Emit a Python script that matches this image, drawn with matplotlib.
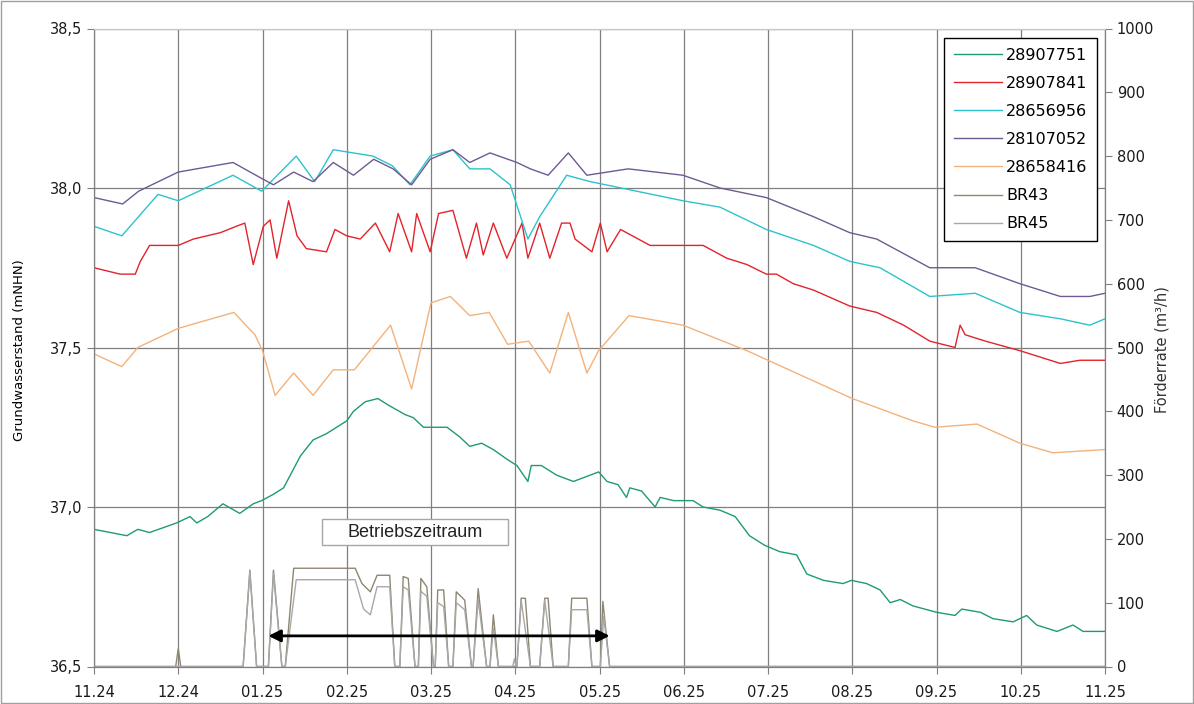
import matplotlib
matplotlib.use('Agg')
import matplotlib.pyplot as plt
from matplotlib.patches import Rectangle
from matplotlib.ticker import FixedLocator, FuncFormatter

# x-Werte: Monate seit 01.11.2024 (0 = 11.24, 12 = 11.25)
monat_labels = ['11.24', '12.24', '01.25', '02.25', '03.25', '04.25', '05.25',
                '06.25', '07.25', '08.25', '09.25', '10.25', '11.25']

# Grundwasserstände (mNHN)
x_751 = [0, 0.39, 0.52, 0.66, 0.98, 1.14, 1.22, 1.35, 1.53, 1.73,
         1.89, 1.99, 2.13, 2.25, 2.37, 2.45, 2.60, 2.76, 3.00, 3.08,
         3.22, 3.37, 3.49, 3.69, 3.79, 3.91, 4.19, 4.34, 4.46, 4.60,
         4.74, 4.90, 5.02, 5.15, 5.19, 5.31, 5.49, 5.69, 5.99, 6.09,
         6.22, 6.32, 6.36, 6.50, 6.66, 6.72, 6.88, 7.11, 7.23, 7.43,
         7.61, 7.78, 7.96, 8.14, 8.34, 8.46, 8.66, 8.89, 8.99, 9.17,
         9.33, 9.45, 9.57, 9.72, 10.00, 10.22, 10.30, 10.52, 10.67, 10.91,
         11.07, 11.19, 11.43, 11.62, 11.74, 12.0]
gw_751 = [36.93, 36.91, 36.93, 36.92, 36.95, 36.97, 36.95, 36.97, 37.01, 36.98,
          37.01, 37.02, 37.04, 37.06, 37.12, 37.16, 37.21, 37.23, 37.27, 37.30,
          37.33, 37.34, 37.32, 37.29, 37.28, 37.25, 37.25, 37.22, 37.19, 37.20,
          37.18, 37.15, 37.13, 37.08, 37.13, 37.13, 37.10, 37.08, 37.11, 37.08,
          37.07, 37.03, 37.06, 37.05, 37.00, 37.03, 37.02, 37.02, 37.00, 36.99,
          36.97, 36.91, 36.88, 36.86, 36.85, 36.79, 36.77, 36.76, 36.77, 36.76,
          36.74, 36.70, 36.71, 36.69, 36.67, 36.66, 36.68, 36.67, 36.65, 36.64,
          36.66, 36.63, 36.61, 36.63, 36.61, 36.61]

x_841 = [0, 0.31, 0.49, 0.55, 0.66, 1.00, 1.18, 1.50, 1.69, 1.79,
         1.89, 2.01, 2.09, 2.17, 2.31, 2.41, 2.52, 2.76, 2.86, 3.00,
         3.16, 3.34, 3.51, 3.61, 3.77, 3.83, 3.99, 4.09, 4.26, 4.42,
         4.54, 4.62, 4.74, 4.90, 5.08, 5.15, 5.29, 5.41, 5.55, 5.65,
         5.71, 5.91, 6.01, 6.09, 6.25, 6.32, 6.60, 6.99, 7.23, 7.51,
         7.75, 7.98, 8.10, 8.30, 8.54, 8.97, 9.29, 9.61, 9.92, 10.22,
         10.28, 10.34, 10.58, 10.99, 11.47, 11.70, 12.0]
gw_841 = [37.75, 37.73, 37.73, 37.77, 37.82, 37.82, 37.84, 37.86, 37.88, 37.89,
          37.76, 37.88, 37.90, 37.78, 37.96, 37.85, 37.81, 37.80, 37.87, 37.85,
          37.84, 37.89, 37.80, 37.92, 37.80, 37.92, 37.80, 37.92, 37.93, 37.78,
          37.89, 37.79, 37.89, 37.78, 37.89, 37.78, 37.89, 37.78, 37.89, 37.89,
          37.84, 37.80, 37.89, 37.80, 37.87, 37.86, 37.82, 37.82, 37.82, 37.78,
          37.76, 37.73, 37.73, 37.70, 37.68, 37.63, 37.61, 37.57, 37.52, 37.50,
          37.57, 37.54, 37.52, 37.49, 37.45, 37.46, 37.46]

x_956 = [0, 0.33, 0.76, 1.00, 1.65, 1.99, 2.40, 2.62, 2.84, 3.31,
         3.54, 3.75, 3.99, 4.26, 4.46, 4.70, 4.94, 5.15, 5.29, 5.61,
         5.89, 6.99, 7.43, 7.98, 8.54, 8.97, 9.33, 9.92, 10.46, 10.99,
         11.47, 11.82, 12.0]
gw_956 = [37.88, 37.85, 37.98, 37.96, 38.04, 37.99, 38.10, 38.02, 38.12, 38.10,
          38.07, 38.01, 38.10, 38.12, 38.06, 38.06, 38.01, 37.84, 37.91, 38.04,
          38.02, 37.96, 37.94, 37.87, 37.82, 37.77, 37.75, 37.66, 37.67, 37.61,
          37.59, 37.57, 37.59]

x_052 = [0, 0.34, 0.53, 1.00, 1.65, 1.99, 2.13, 2.37, 2.60, 2.84,
         3.08, 3.32, 3.55, 3.77, 3.99, 4.26, 4.46, 4.70, 5.02, 5.18,
         5.39, 5.63, 5.85, 6.34, 6.99, 7.43, 7.98, 8.54, 8.97, 9.29,
         9.92, 10.46, 10.99, 11.47, 11.82, 12.0]
gw_052 = [37.97, 37.95, 37.99, 38.05, 38.08, 38.03, 38.01, 38.05, 38.02, 38.08,
          38.04, 38.09, 38.06, 38.01, 38.09, 38.12, 38.08, 38.11, 38.08, 38.06,
          38.04, 38.11, 38.04, 38.06, 38.04, 38.00, 37.97, 37.91, 37.86, 37.84,
          37.75, 37.75, 37.70, 37.66, 37.66, 37.67]

x_416 = [0, 0.33, 0.52, 1.00, 1.66, 1.91, 2.00, 2.15, 2.37, 2.60,
         2.84, 3.09, 3.52, 3.77, 4.00, 4.23, 4.46, 4.69, 4.91, 5.16,
         5.41, 5.63, 5.85, 5.99, 6.35, 6.99, 7.75, 9.00, 9.72, 9.98,
         10.48, 10.99, 11.38, 12.0]
gw_416 = [37.48, 37.44, 37.50, 37.56, 37.61, 37.54, 37.49, 37.35, 37.42, 37.35,
          37.43, 37.43, 37.57, 37.37, 37.64, 37.66, 37.60, 37.61, 37.51, 37.52,
          37.42, 37.61, 37.42, 37.49, 37.60, 37.57, 37.49, 37.34, 37.27, 37.25,
          37.26, 37.20, 37.17, 37.18]

# Förderraten der Brunnen (m³/h)
x_br43 = [0, 0.97, 1.00, 1.03, 1.77, 1.85, 1.93, 2.07, 2.13, 2.23,
          2.27, 2.37, 3.10, 3.18, 3.28, 3.36, 3.51, 3.57, 3.63, 3.67,
          3.73, 3.81, 3.85, 3.88, 3.95, 4.03, 4.05, 4.08, 4.15, 4.21,
          4.26, 4.30, 4.40, 4.48, 4.50, 4.56, 4.66, 4.70, 4.74, 4.80,
          5.02, 5.07, 5.12, 5.18, 5.29, 5.35, 5.39, 5.45, 5.63, 5.67,
          5.85, 5.91, 6.01, 6.04, 6.12, 12.0]
q_br43 = [0, 0, 28, 0, 0, 151, 0, 0, 151, 0,
          0, 154, 154, 130, 117, 143, 143, 0, 0, 141,
          138, 0, 0, 138, 125, 0, 0, 120, 120, 0,
          0, 117, 104, 0, 0, 122, 0, 0, 81, 0,
          0, 107, 107, 0, 0, 107, 107, 0, 0, 107,
          107, 0, 0, 102, 0, 0]

x_br45 = [0, 1.77, 1.85, 1.93, 2.07, 2.13, 2.23, 2.27, 2.40, 3.10,
          3.20, 3.28, 3.36, 3.51, 3.57, 3.63, 3.67, 3.73, 3.81, 3.85,
          3.88, 3.95, 4.03, 4.05, 4.08, 4.15, 4.21, 4.26, 4.30, 4.40,
          4.48, 4.50, 4.56, 4.66, 4.70, 4.74, 4.80, 4.97, 4.99, 5.01,
          5.02, 5.07, 5.18, 5.29, 5.35, 5.45, 5.63, 5.67, 5.85, 5.91,
          6.01, 6.05, 6.12, 12.0]
q_br45 = [0, 0, 148, 0, 0, 146, 0, 0, 136, 136,
          90, 81, 125, 125, 0, 0, 125, 120, 0, 0,
          118, 110, 0, 0, 100, 94, 0, 0, 100, 89,
          0, 0, 105, 0, 0, 60, 0, 0, 12, 0,
          0, 104, 0, 0, 104, 0, 0, 89, 89, 0,
          0, 78, 0, 0]

# Betriebszeitraum (Monate) und Höhe des Pfeils (m³/h)
betrieb_von, betrieb_bis, betrieb_hoehe = 2.07, 6.12, 48

farbe_gitter = '#7f7f7f'

fig = plt.figure(figsize=(11.94, 7.04), dpi=100)
ax = fig.add_axes([94 / 1194, 1 - 666.5 / 704, 1011 / 1194, 638 / 704])
ax2 = ax.twinx()

l1, = ax.plot(x_751, gw_751, color='#1f9b70', lw=1.0, label='28907751')
l2, = ax.plot(x_841, gw_841, color='#e3232c', lw=1.0, label='28907841')
l3, = ax.plot(x_956, gw_956, color='#2cc3cc', lw=1.0, label='28656956')
l4, = ax.plot(x_052, gw_052, color='#6e5a92', lw=1.0, label='28107052')
l5, = ax.plot(x_416, gw_416, color='#f3b27c', lw=1.0, label='28658416')

l6, = ax2.plot(x_br43, q_br43, color='#8e8670', lw=1.0, label='BR43')
l7, = ax2.plot(x_br45, q_br45, color='#a8a8a8', lw=1.0, label='BR45')

# Achsen
ax.set_xlim(0, 12)
ax.set_ylim(36.5, 38.5)
ax2.set_ylim(0, 1000)

ax.xaxis.set_major_locator(FixedLocator(range(13)))
ax.set_xticklabels(monat_labels)
ax.yaxis.set_major_locator(FixedLocator([36.5, 37.0, 37.5, 38.0, 38.5]))
ax.yaxis.set_major_formatter(FuncFormatter(lambda v, p: f'{v:.1f}'.replace('.', ',')))
ax2.yaxis.set_major_locator(FixedLocator(range(0, 1001, 100)))

ax.grid(True, color=farbe_gitter, lw=0.9)
ax.set_axisbelow(True)

for a in (ax, ax2):
    for s in ('left', 'right', 'bottom'):
        a.spines[s].set_color(farbe_gitter)
    a.spines['top'].set_color('#c8c8c8')
    a.tick_params(colors=farbe_gitter, labelcolor='#1a1a1a', labelsize=10.5,
                  direction='out', length=5)
ax.tick_params(axis='x', pad=8)

fig.text(20 / 1194, 1 - 350 / 704, 'Grundwasserstand (mNHN)', rotation=90,
         ha='center', va='center', fontsize=9.5, family='Liberation Sans Narrow')
fig.text(1162 / 1194, 1 - 350 / 704, 'Förderrate (m³/h)', rotation=90,
         ha='center', va='center', fontsize=10.5, color='#333333')

# Betriebszeitraum
ax2.annotate('', xy=(betrieb_von, betrieb_hoehe), xytext=(betrieb_bis, betrieb_hoehe),
             arrowprops=dict(arrowstyle='<|-|>', color='black', lw=2, mutation_scale=18,
                             shrinkA=0, shrinkB=0))
ax2.add_patch(Rectangle((0.2255, 0.1904), 0.184, 0.0408, transform=ax2.transAxes,
                        fc='white', ec='#a6a6a6', lw=1, zorder=4))
ax2.text(0.3175, 0.2108, 'Betriebszeitraum', transform=ax2.transAxes,
         ha='center', va='center', fontsize=13, family='Liberation Sans',
         color='#222222', zorder=5)

leg = ax2.legend(handles=[l1, l2, l3, l4, l5, l6, l7], loc='upper right',
                 bbox_to_anchor=(0.992, 0.985), borderaxespad=0,
                 fontsize=11.5, frameon=True, fancybox=False, edgecolor='black',
                 framealpha=1, handlelength=3.0, handletextpad=0.25,
                 labelspacing=0.82, borderpad=0.6)
leg.get_frame().set_linewidth(1.0)

# Rahmen um das Diagramm
fig.add_artist(Rectangle((0.001, 0.001), 0.998, 0.997, transform=fig.transFigure,
                         fill=False, ec='#a0a0a0', lw=1))

fig.savefig('out.png', dpi=100)
